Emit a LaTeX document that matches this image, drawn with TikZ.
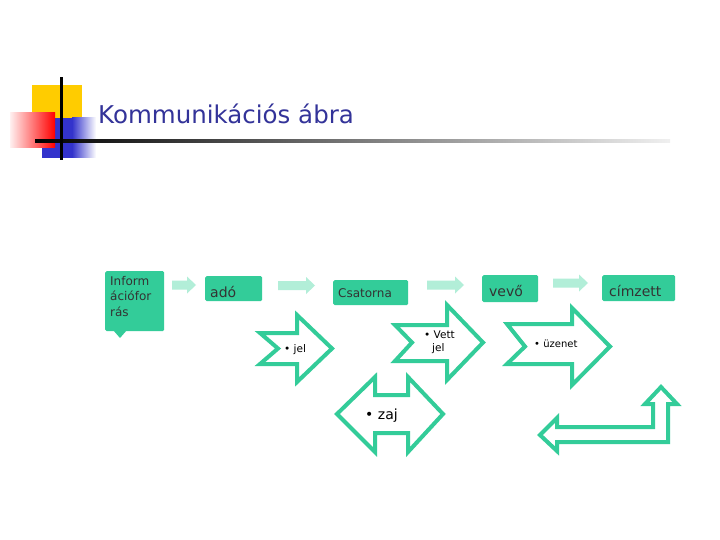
\documentclass[tikz,border=0pt]{standalone}
\usepackage{fontspec}
\setmainfont{DejaVu Sans}
\definecolor{teal1}{HTML}{33CC99}
\definecolor{mint}{HTML}{B2EED8}
\definecolor{navy}{HTML}{333399}
\definecolor{boxtext}{HTML}{333333}
\definecolor{ttlyellow}{HTML}{FFCC00}
\definecolor{ttlblue}{HTML}{3333CC}
\newcommand\mintarr[3]{% x0, x1, yc
  \fill[mint] (#1,#3-4.5) -- (#2-9,#3-4.5) -- (#2-9,#3-8.5) -- (#2,#3) -- (#2-9,#3+8.5) -- (#2-9,#3+4.5) -- (#1,#3+4.5) -- cycle;}
\begin{document}
\begin{tikzpicture}[x=1pt,y=-1pt,
  gbox/.style={fill=teal1, rounded corners=1.5pt, draw=none, inner sep=0pt, anchor=north west},
  outl/.style={draw=teal1, line width=4pt, fill=white, line join=miter},
  btxt/.style={text=boxtext, inner sep=0pt, anchor=base west, font=\fontsize{14}{16}\selectfont},
  stxt/.style={text=black, inner sep=0pt, anchor=base west, font=\fontsize{10.5}{13}\selectfont}]
\useasboundingbox (0,0) rectangle (720,540);
\fill[white] (0,0) rectangle (720,540);

% title decoration
\fill[ttlyellow] (32,85) rectangle (82,118);
\fill[ttlblue] (42,118) rectangle (72,158);
\shade[left color=ttlblue, right color=white] (72,118) rectangle (96,158);
\shade[left color=red!6, right color=red] (10,113) rectangle (55,148);
\shade[left color=black, right color=black!6] (35,139.5) rectangle (670,142.5);
\fill[black] (59.5,77) rectangle (62.5,160);
\node[anchor=base west, text=navy, font=\fontsize{24.5}{28}\selectfont, inner sep=0pt] (title) at (98,124) {Kommunikációs ábra};

% boxes
\node[gbox, minimum width=59pt, minimum height=60pt] (info) at (105,271) {};
\fill[teal1] (113,330) -- (127,330) -- (120,338) -- cycle;
\node[btxt, font=\fontsize{12}{15.5}\selectfont, align=left, anchor=north west] (infotxt) at (110,276) {Inform\\ációfor\\rás};
\node[gbox, minimum width=57pt, minimum height=25pt] (ado) at (205,276) {};
\node[btxt] (adotxt) at (210,297) {adó};
\node[gbox, minimum width=75pt, minimum height=25pt] (csat) at (333,280) {};
\node[btxt, font=\fontsize{12}{14}\selectfont] (csattxt) at (338,297) {Csatorna};
\node[gbox, minimum width=56pt, minimum height=27pt] (vevo) at (482,275) {};
\node[btxt] (vevotxt) at (489,296) {vevő};
\node[gbox, minimum width=73pt, minimum height=26pt] (cimz) at (602,275) {};
\node[btxt] (cimztxt) at (609,296) {címzett};

% light arrows between boxes
\mintarr{172}{196}{285}
\mintarr{278}{315}{285.5}
\mintarr{427}{464}{285}
\mintarr{553}{588}{283}

% notched arrows
\draw[outl] (260,333) -- (297,333) -- (297,315) -- (332,348.5) -- (297,382) -- (297,364) -- (260,364) -- (278,348.5) -- cycle;
\node[stxt] (jel) at (284,352) {• jel};

\draw[outl] (395,325) -- (447,325) -- (447,305) -- (483,342.5) -- (447,380) -- (447,361) -- (395,361) -- (412,342.5) -- cycle;
\node[stxt, align=left, anchor=north west] (vett) at (424,331) {• Vett\\\hphantom{•\,}jel};

\draw[outl] (507,324) -- (572,324) -- (572,308) -- (610,346.5) -- (572,385) -- (572,364) -- (507,364) -- (525,346.5) -- cycle;
\node[stxt, font=\fontsize{10}{12}\selectfont] (uzenet) at (534,347) {• üzenet};

\draw[outl] (337,414) -- (375,377) -- (375,395) -- (408,395) -- (408,377) -- (443,414) -- (408,452) -- (408,433) -- (375,433) -- (375,452) -- cycle;
\node[stxt, font=\fontsize{14}{16}\selectfont] (zaj) at (365,419) {• zaj};

\draw[outl] (540,435) -- (557,418) -- (557,427) -- (653,427) -- (653,404) -- (645,404) -- (661,387) -- (677,404) -- (668,404) -- (668,442) -- (557,442) -- (557,451) -- cycle;
\end{tikzpicture}
\end{document}
